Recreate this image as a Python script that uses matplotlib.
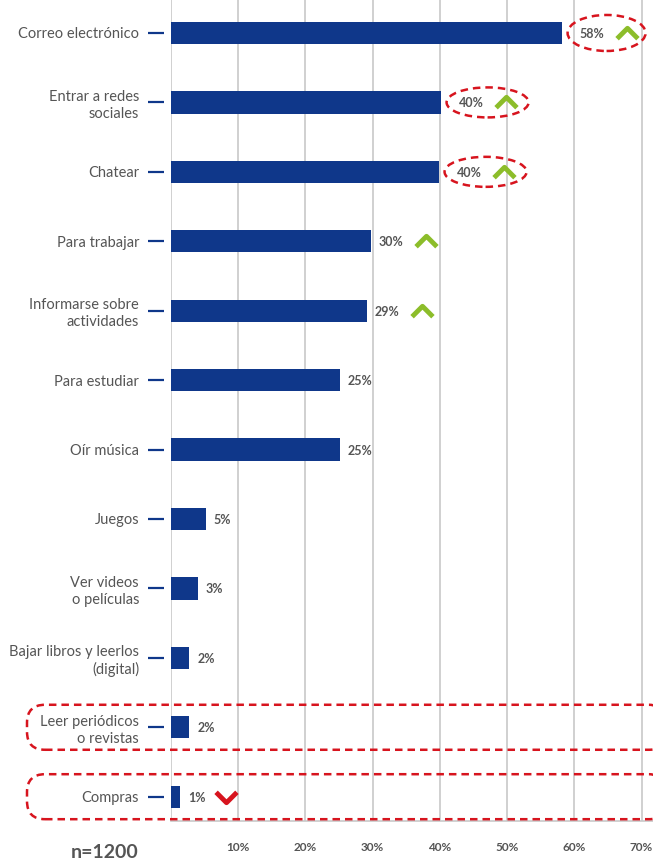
import matplotlib
matplotlib.use('Agg')
import matplotlib.pyplot as plt
from matplotlib.patches import Ellipse, FancyBboxPatch
from matplotlib.path import Path
from matplotlib.transforms import IdentityTransform

categories = ['Correo electrónico', 'Entrar a redes\nsociales', 'Chatear', 'Para trabajar',
              'Informarse sobre\nactividades', 'Para estudiar', 'Oír música', 'Juegos',
              'Ver videos\no películas', 'Bajar libros y leerlos\n(digital)',
              'Leer periódicos\no revistas', 'Compras']
values = [58.1, 40.1, 39.8, 29.7, 29.1, 25.1, 25.1, 5.2, 4.0, 2.7, 2.7, 1.3]
value_labels = ['58%', '40%', '40%', '30%', '29%', '25%', '25%', '5%', '3%', '2%', '2%', '1%']
trend = ['up', 'up', 'up', 'up', 'up', None, None, None, None, None, None, 'down']
circled = [0, 1, 2]
boxed = [10, 11]
xticks = [10, 20, 30, 40, 50, 60, 70]
sample_label = 'n=1200'

NAVY = '#0f378a'
GRAY_TXT = '#555555'
GRID = '#c8c8c8'
GREEN = '#8cbd2a'
RED = '#d7141e'

plt.rcParams['font.family'] = ['Lato', 'DejaVu Sans']

W, H = 653, 864
fig = plt.figure(figsize=(W / 100, H / 100), dpi=100)
ax = fig.add_axes([171 / W, 1 - 821 / H, 1 - 171 / W, 821 / H])

ypos = list(range(len(categories)))
ax.barh(ypos, values, height=0.32, color=NAVY, zorder=3)
ax.set_xlim(0, 71.7)
ax.set_ylim(11.35, -0.475)

# grid + frame
ax.set_xticks(xticks)
ax.set_xticklabels([f'{t}%' for t in xticks], fontweight='bold', fontsize=8.5, color=GRAY_TXT)
ax.tick_params(axis='x', length=0, pad=15)
ax.xaxis.grid(True, color=GRID, lw=1.2)
ax.set_axisbelow(True)
for s in ['top', 'right']:
    ax.spines[s].set_visible(False)
ax.spines['bottom'].set_color(GRID)
ax.spines['bottom'].set_linewidth(1.2)
ax.spines['left'].set_position(('outward', 5))
ax.spines['left'].set_visible(False)
ax.axvline(0, color=GRID, lw=1.2, zorder=1)

ax.set_yticks(ypos)
ax.set_yticklabels(categories, fontsize=10.5, color=GRAY_TXT, linespacing=1.25)
ax.tick_params(axis='y', length=11.5, width=1.6, color=NAVY, pad=6.5)

ident = IdentityTransform()
chev_up = Path([(-1, -0.5), (0, 0.5), (1, -0.5)], [Path.MOVETO, Path.LINETO, Path.LINETO])
chev_dn = Path([(-1, 0.5), (0, -0.5), (1, 0.5)], [Path.MOVETO, Path.LINETO, Path.LINETO])

for i, v in enumerate(values):
    x0, y0 = ax.transData.transform((v, i))
    gap = 18 if i in circled else 8
    lx = x0 + gap
    ax.text(lx, y0 - 1, value_labels[i], transform=ident, ha='left', va='center',
            fontsize=9, fontweight='bold', color=GRAY_TXT, zorder=5)
    if trend[i]:
        ax_x = lx + 9 * len(value_labels[i]) + 20
        ax.plot([ax_x], [y0], transform=ident, marker=chev_up if trend[i] == 'up' else chev_dn,
                ms=15, mew=3.5, mfc='none', mec=GREEN if trend[i] == 'up' else RED,
                ls='none', clip_on=False, zorder=5)
    if i in circled:
        w, h = (78, 36) if i == 0 else (82, 30)
        ax.add_patch(Ellipse((x0 + 6 + w / 2, y0), w, h, transform=ident, fill=False,
                             ec=RED, lw=1.8, ls=(0, (3, 2)), clip_on=False, zorder=6))
    if i in boxed:
        ax.add_patch(FancyBboxPatch((27, y0 - 22.5), 640, 45, transform=ident,
                                    boxstyle='round,pad=0,rounding_size=18', fill=False,
                                    ec=RED, lw=1.8, ls=(0, (3, 2)), clip_on=False, zorder=6))

fig.text(105 / W, 1 - 853 / H, sample_label, ha='center', va='center',
         fontsize=14, fontweight='bold', color=GRAY_TXT)

fig.savefig('out.png', dpi=100)
